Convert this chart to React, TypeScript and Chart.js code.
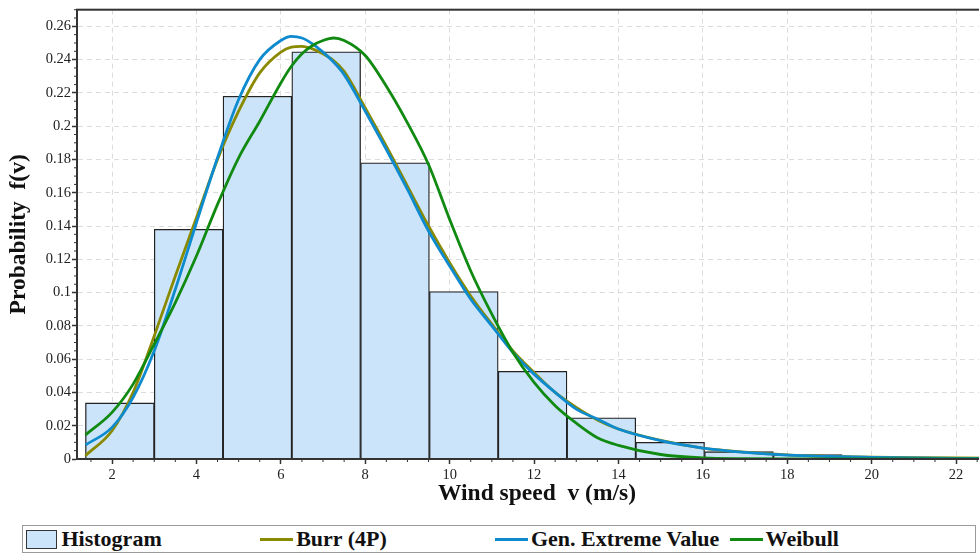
import React, { useEffect, useRef } from 'react';
import { Chart, registerables } from 'chart.js';

Chart.register(...registerables);

// Histogram bins (bin width ≈ 1.63 m/s, first bin starts at 1.37 m/s)
const binCenters = [2.185, 3.815, 5.445, 7.075, 8.705, 10.335, 11.965, 13.595, 15.225, 16.855, 18.485];
const histogram = [0.0337, 0.138, 0.218, 0.2447, 0.178, 0.1006, 0.0527, 0.0247, 0.01, 0.0044, 0.0026];

// Fitted density curves
const windSpeed = [1.37, 2, 2.5, 3, 3.5, 4, 4.5, 5, 5.5, 6, 6.25, 6.5, 6.75, 7, 7.25, 7.5, 8, 8.5, 9, 9.5, 10, 10.5, 11, 11.5, 12, 12.5, 13, 13.5, 14, 15, 16, 17, 18, 19, 20, 21, 22, 23];
const burr = [0.002, 0.017, 0.04, 0.074, 0.11, 0.145, 0.18, 0.209, 0.232, 0.2445, 0.2475, 0.248, 0.2465, 0.2435, 0.2395, 0.233, 0.211, 0.188, 0.164, 0.14, 0.118, 0.098, 0.081, 0.065, 0.052, 0.04, 0.031, 0.0235, 0.018, 0.0112, 0.0066, 0.0041, 0.0025, 0.0016, 0.0011, 0.0008, 0.0006, 0.0005];
const gev = [0.0084, 0.019, 0.037, 0.065, 0.102, 0.142, 0.181, 0.216, 0.24, 0.2515, 0.254, 0.253, 0.2495, 0.2445, 0.2385, 0.231, 0.209, 0.186, 0.162, 0.137, 0.116, 0.096, 0.08, 0.064, 0.051, 0.04, 0.03, 0.024, 0.018, 0.011, 0.0066, 0.004, 0.0023, 0.0015, 0.001, 0.0006, 0.0004, 0.0003];
const weibull = [0.0144, 0.028, 0.045, 0.069, 0.094, 0.122, 0.153, 0.181, 0.203, 0.226, 0.236, 0.2435, 0.2485, 0.2515, 0.253, 0.2515, 0.2425, 0.224, 0.202, 0.177, 0.144, 0.113, 0.087, 0.064, 0.046, 0.032, 0.0215, 0.0128, 0.0082, 0.0027, 0.0007, 0.0002, 0, 0, 0, 0, 0, 0];

const xTicks = [2, 4, 6, 8, 10, 12, 14, 16, 18, 20, 22];
const yTicks = [0, 0.02, 0.04, 0.06, 0.08, 0.1, 0.12, 0.14, 0.16, 0.18, 0.2, 0.22, 0.24, 0.26];

const seriesLabels = ['Histogram', 'Burr (4P)', 'Gen. Extreme Value', 'Weibull'];
const seriesColors = ['#cce4fa', '#8a8a00', '#0e8bcf', '#118a11'];

const FONT = "'Liberation Serif', 'Times New Roman', serif";

const framePlugin = {
  id: 'frame',
  afterDatasetsDraw(chart: any) {
    const { ctx, chartArea } = chart;
    const { left, top, right, bottom } = chartArea;
    const x = chart.scales.x;
    const y = chart.scales.y;
    ctx.save();
    ctx.strokeStyle = '#333';
    ctx.lineWidth = 1;
    ctx.beginPath();
    for (let k = Math.ceil(x.min / 0.5); k * 0.5 <= x.max; k++) {
      if (k % 4 === 0) continue;
      const px = x.getPixelForValue(k * 0.5);
      ctx.moveTo(px, bottom);
      ctx.lineTo(px, bottom + 3);
    }
    for (let k = 0; k * 0.005 <= y.max + 1e-9; k++) {
      if (k % 4 === 0) continue;
      const py = y.getPixelForValue(k * 0.005);
      ctx.moveTo(left - 3, py);
      ctx.lineTo(left, py);
    }
    ctx.stroke();
    ctx.lineWidth = 2;
    ctx.strokeRect(left, top, right - left, bottom - top);
    ctx.restore();
  },
};

function lineDataset(i: number, values: number[], order: number) {
  return {
    type: 'line' as const,
    label: seriesLabels[i],
    data: windSpeed.map((v, k) => ({ x: v, y: values[k] })),
    borderColor: seriesColors[i],
    backgroundColor: seriesColors[i],
    borderWidth: 2.8,
    pointRadius: 0,
    fill: false,
    cubicInterpolationMode: 'monotone' as const,
    order,
  };
}

export default function App() {
  const ref = useRef<HTMLCanvasElement | null>(null);

  useEffect(() => {
    if (!ref.current) return;
    const chart = new Chart(ref.current, {
      type: 'bar',
      data: {
        datasets: [
          {
            type: 'bar',
            label: seriesLabels[0],
            data: binCenters.map((c, i) => ({ x: c, y: histogram[i] })) as any,
            backgroundColor: seriesColors[0],
            borderColor: '#222',
            borderWidth: 1.3,
            barPercentage: 1,
            categoryPercentage: 1,
            order: 10,
          } as any,
          lineDataset(1, burr, 3) as any,
          lineDataset(2, gev, 2) as any,
          lineDataset(3, weibull, 1) as any,
        ],
      },
      options: {
        animation: false,
        responsive: false,
        maintainAspectRatio: false,
        layout: { padding: { left: 0, top: 9, right: 13, bottom: 0 } },
        plugins: { legend: { display: false }, tooltip: { enabled: false } },
        scales: {
          x: {
            type: 'linear',
            min: 1.17,
            max: 22.97,
            offset: false,
            afterBuildTicks: (s: any) => {
              s.ticks = xTicks.map((v) => ({ value: v }));
            },
            afterFit: (s: any) => {
              s.height = 56;
            },
            grid: { color: '#dcdcdc', tickColor: '#333', tickLength: 5, tickWidth: 1.5, offset: false },
            border: { color: '#333', width: 2, dash: [5, 4] },
            ticks: {
              autoSkip: false,
              maxRotation: 0,
              padding: 2,
              color: '#222',
              font: { family: FONT, size: 14.5 },
              callback: (v: any) => String(v),
            },
            title: {
              display: true,
              text: 'Wind speed  v (m/s)',
              color: '#111',
              font: { family: FONT, size: 23.5, weight: 'bold' },
              padding: { top: 0, bottom: 7 },
            },
          },
          y: {
            type: 'linear',
            min: 0,
            max: 0.27,
            afterBuildTicks: (s: any) => {
              s.ticks = yTicks.map((v) => ({ value: v }));
            },
            afterFit: (s: any) => {
              s.width = 77;
            },
            grid: { color: '#dcdcdc', tickColor: '#333', tickLength: 5, tickWidth: 1.5 },
            border: { color: '#333', width: 2, dash: [5, 4] },
            ticks: {
              autoSkip: false,
              padding: 1,
              color: '#222',
              font: { family: FONT, size: 14.5 },
              callback: (v: any) => String(parseFloat(Number(v).toFixed(3))),
            },
            title: {
              display: true,
              text: 'Probability  f(v)',
              color: '#111',
              font: { family: FONT, size: 23.5, weight: 'bold' },
              padding: { top: 5, bottom: 0 },
            },
          },
        },
      } as any,
      plugins: [framePlugin],
    });
    return () => chart.destroy();
  }, []);

  return (
    <div style={{ position: 'fixed', left: 0, top: 0, width: 979, height: 555, overflow: 'hidden', background: '#fff' }}>
      <canvas ref={ref} width={1010} height={515} style={{ position: 'absolute', left: 0, top: 0, width: 1010, height: 515 }} />
      <div
        style={{
          position: 'absolute',
          left: 22,
          top: 525,
          width: 954,
          height: 28,
          border: '1.5px solid #9a9a9a',
          boxSizing: 'border-box',
          fontFamily: FONT,
          fontWeight: 'bold',
          fontSize: 22,
          color: '#111',
        }}
      >
        {seriesLabels.map((label, i) => (
          <div
            key={label}
            style={{
              position: 'absolute',
              left: 2.5 + i * 234.7,
              top: 0,
              height: '100%',
              display: 'flex',
              alignItems: 'center',
              whiteSpace: 'nowrap',
              lineHeight: 1,
            }}
          >
            {i === 0 ? (
              <span style={{ display: 'inline-block', width: 31, height: 19, background: seriesColors[0], border: '1.5px solid #333', boxSizing: 'border-box', marginRight: 5 }} />
            ) : (
              <span style={{ display: 'inline-block', width: 33, height: 3, background: seriesColors[i], marginRight: 3 }} />
            )}
            <span>{label}</span>
          </div>
        ))}
      </div>
    </div>
  );
}
